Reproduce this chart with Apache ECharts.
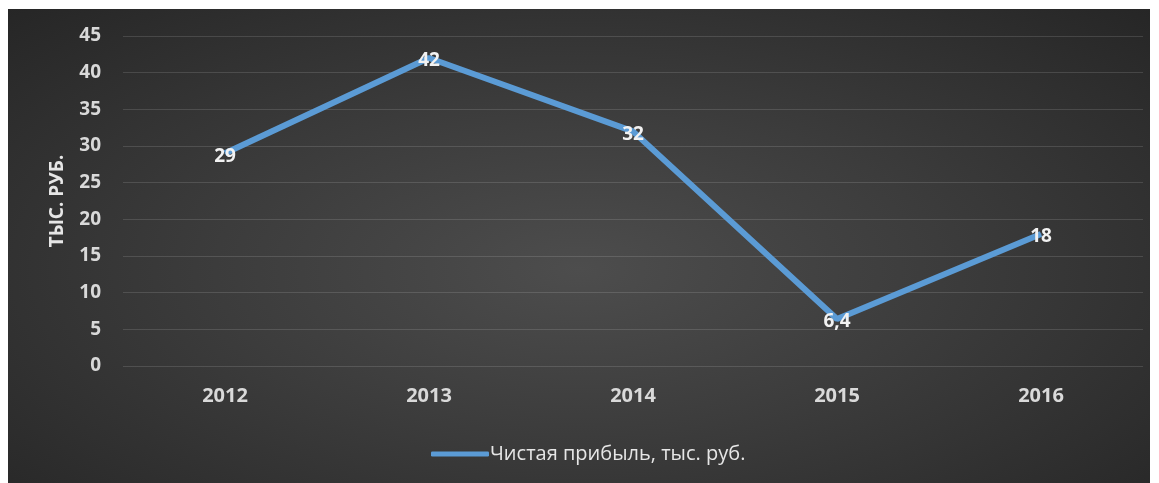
<!DOCTYPE html>
<html><head><meta charset="utf-8">
<script src="https://cdn.jsdelivr.net/npm/echarts@6/dist/echarts.min.js"></script>
<style>
html,body{margin:0;padding:0;background:#fff;}
#bg{position:absolute;left:8px;top:9px;width:1142px;height:474px;
background:radial-gradient(ellipse at 50% 55%, #4d4d4d 0%, #3c3c3c 45%, #262626 100%);}
#c{position:absolute;left:0;top:0;width:1159px;height:483px;}
</style></head>
<body>
<div id="bg"></div>
<div id="c"></div>
<script>
const categories = ['2012', '2013', '2014', '2015', '2016'];
const profit = [29, 42, 32, 6.4, 18];
const seriesName = 'Чистая прибыль, тыс. руб.';
const yAxisName = 'ТЫС. РУБ.';

const chart = echarts.init(document.getElementById('c'));
const font = '"Open Sans", "Noto Sans", sans-serif';
chart.setOption({
  backgroundColor: 'transparent',
  animation: false,
  grid: {left: 123, right: 16, top: 36, bottom: 117, containLabel: false},
  legend: {
    top: 439, left: 426,
    data: [{name: seriesName, icon: 'roundRect'}],
    itemWidth: 58, itemHeight: 5, itemGap: 10,
    textStyle: {color: '#e6e6e6', fontSize: 20, fontFamily: font, padding: [0,0,0,-4]}
  },
  xAxis: {
    type: 'category', data: categories, boundaryGap: true,
    axisLine: {show: false}, axisTick: {show: false},
    axisLabel: {color: '#d9d9d9', fontSize: 20, fontWeight: 'bold', fontFamily: font, margin: 20}
  },
  yAxis: {
    type: 'value', min: 0, max: 45, interval: 5,
    name: yAxisName, nameLocation: 'middle', nameGap: 56,
    nameTextStyle: {color: '#e6e6e6', fontSize: 19, fontWeight: 'bold', fontFamily: font},
    axisLine: {show: false}, axisTick: {show: false},
    axisLabel: {color: '#d9d9d9', fontSize: 19, fontWeight: 'bold', fontFamily: font, margin: 22},
    splitLine: {lineStyle: {color: 'rgba(255,255,255,0.13)', width: 1}}
  },
  series: [{
    name: seriesName, type: 'line', data: profit,
    symbol: 'circle', symbolSize: 1, showSymbol: true,
    lineStyle: {color: '#5b9bd5', width: 6},
    itemStyle: {color: '#5b9bd5'},
    label: {
      show: true, position: 'inside', offset: [0, 3], color: '#f2f2f2', fontSize: 19, fontWeight: 'bold', fontFamily: font,
      formatter: p => String(p.value).replace('.', ',')
    }
  }]
});
</script>
</body></html>
